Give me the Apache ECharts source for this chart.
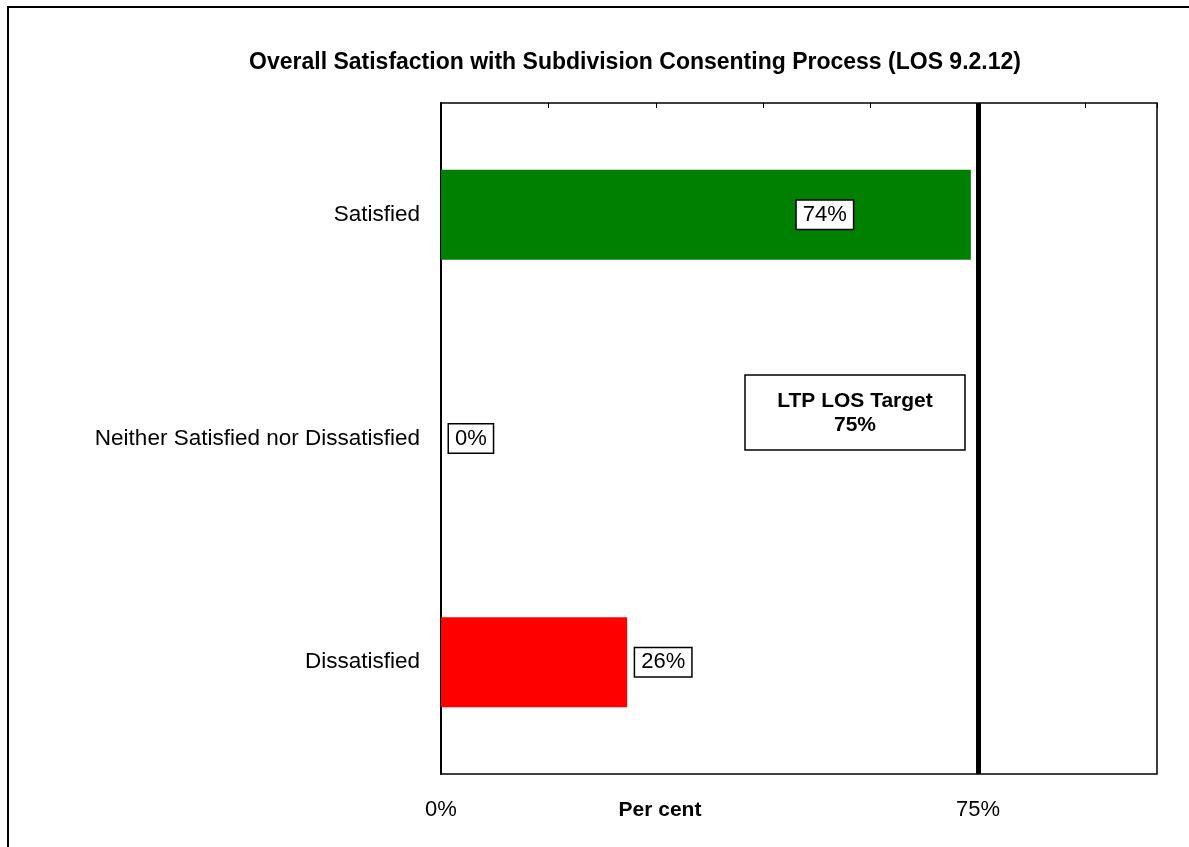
<!DOCTYPE html>
<html>
<head>
<meta charset="utf-8">
<title>Overall Satisfaction with Subdivision Consenting Process</title>
<script src="https://cdn.jsdelivr.net/npm/echarts@6/dist/echarts.min.js"></script>
<style>
  html, body { margin: 0; padding: 0; background: #fff; }
  #chart { width: 1189px; height: 847px; }
</style>
</head>
<body>
<div id="chart"></div>
<script>
// Survey responses (percent of respondents)
const categories = ['Satisfied', 'Neither Satisfied nor Dissatisfied', 'Dissatisfied'];
const values = [74, 0, 26];
const barColors = ['#008000', '#ffff00', '#ff0000'];
// Long Term Plan level-of-service target
const targetValue = 75;
const targetText = ['LTP LOS Target', targetValue + '%'];
const titleText = 'Overall Satisfaction with Subdivision Consenting Process (LOS 9.2.12)';
const axisTitle = 'Per cent';

const FONT = '"Liberation Sans", Arial, sans-serif';
const chart = echarts.init(document.getElementById('chart'), null, { renderer: 'canvas' });

const barData = values.map((v, i) => {
  const item = { value: v, itemStyle: { color: barColors[i] } };
  if (i === 0) {
    // the large bar carries its label inside, near the end
    item.label = { position: 'insideRight', distance: 118 };
  }
  return item;
});

chart.setOption({
  backgroundColor: '#fff',
  animation: false,
  title: {
    text: titleText,
    left: 630,
    top: 46,
    textAlign: 'center',
    textStyle: { fontFamily: FONT, fontWeight: 'bold', fontSize: 23, color: '#000' }
  },
  grid: {
    left: 441, top: 103, width: 716, height: 671,
    show: true, borderColor: '#000', borderWidth: 1.5, backgroundColor: '#fff'
  },
  xAxis: [
    {
      // top edge: tick marks only
      type: 'value', position: 'top', min: 0, max: 100, interval: 15,
      axisLine: { show: false },
      axisTick: { show: true, inside: true, length: 5, lineStyle: { color: '#000', width: 1 } },
      axisLabel: { show: false },
      splitLine: { show: false }
    },
    {
      // bottom edge: labels at 0% and the target
      type: 'value', position: 'bottom', min: 0, max: 100, interval: targetValue,
      axisLine: { show: false },
      axisTick: { show: false },
      splitLine: { show: false },
      axisLabel: {
        showMaxLabel: false, margin: 25,
        formatter: '{value}%',
        fontFamily: FONT, fontSize: 22, color: '#000'
      }
    }
  ],
  yAxis: {
    type: 'category', data: categories, inverse: true,
    axisLine: { show: true, lineStyle: { color: '#000', width: 2 } },
    axisTick: { show: false },
    axisLabel: { margin: 21, fontFamily: FONT, fontSize: 22.5, color: '#000' },
    splitLine: { show: false }
  },
  series: [{
    type: 'bar',
    xAxisIndex: 1,
    data: barData,
    barWidth: 90,
    label: {
      show: true, position: 'right', distance: 8,
      formatter: '{c}%',
      fontFamily: FONT, fontSize: 22, color: '#000',
      backgroundColor: '#fff', borderColor: '#000', borderWidth: 1.5,
      padding: [4, 6, 2, 6]
    },
    markLine: {
      silent: true,
      symbol: 'none',
      label: { show: false },
      lineStyle: { color: '#000', width: 5, type: 'solid' },
      data: [{ xAxis: targetValue }]
    }
  }],
  graphic: [
    {
      // outer chart frame
      type: 'rect', z: 100,
      shape: { x: 8, y: 7, width: 1200, height: 860 },
      style: { fill: 'none', stroke: '#000', lineWidth: 2 }
    },
    {
      // target annotation box
      type: 'rect', z: 50,
      shape: { x: 745, y: 375, width: 220, height: 75 },
      style: { fill: '#fff', stroke: '#000', lineWidth: 1.5 }
    },
    {
      type: 'text', z: 51,
      style: {
        text: targetText.join('\n'), x: 855, y: 413, align: 'center', verticalAlign: 'middle',
        font: 'bold 21px ' + FONT, fill: '#000', lineHeight: 24
      }
    },
    {
      type: 'text',
      style: {
        text: axisTitle, x: 660, y: 810, align: 'center', verticalAlign: 'middle',
        font: 'bold 21px ' + FONT, fill: '#000'
      }
    }
  ]
});
</script>
</body>
</html>
